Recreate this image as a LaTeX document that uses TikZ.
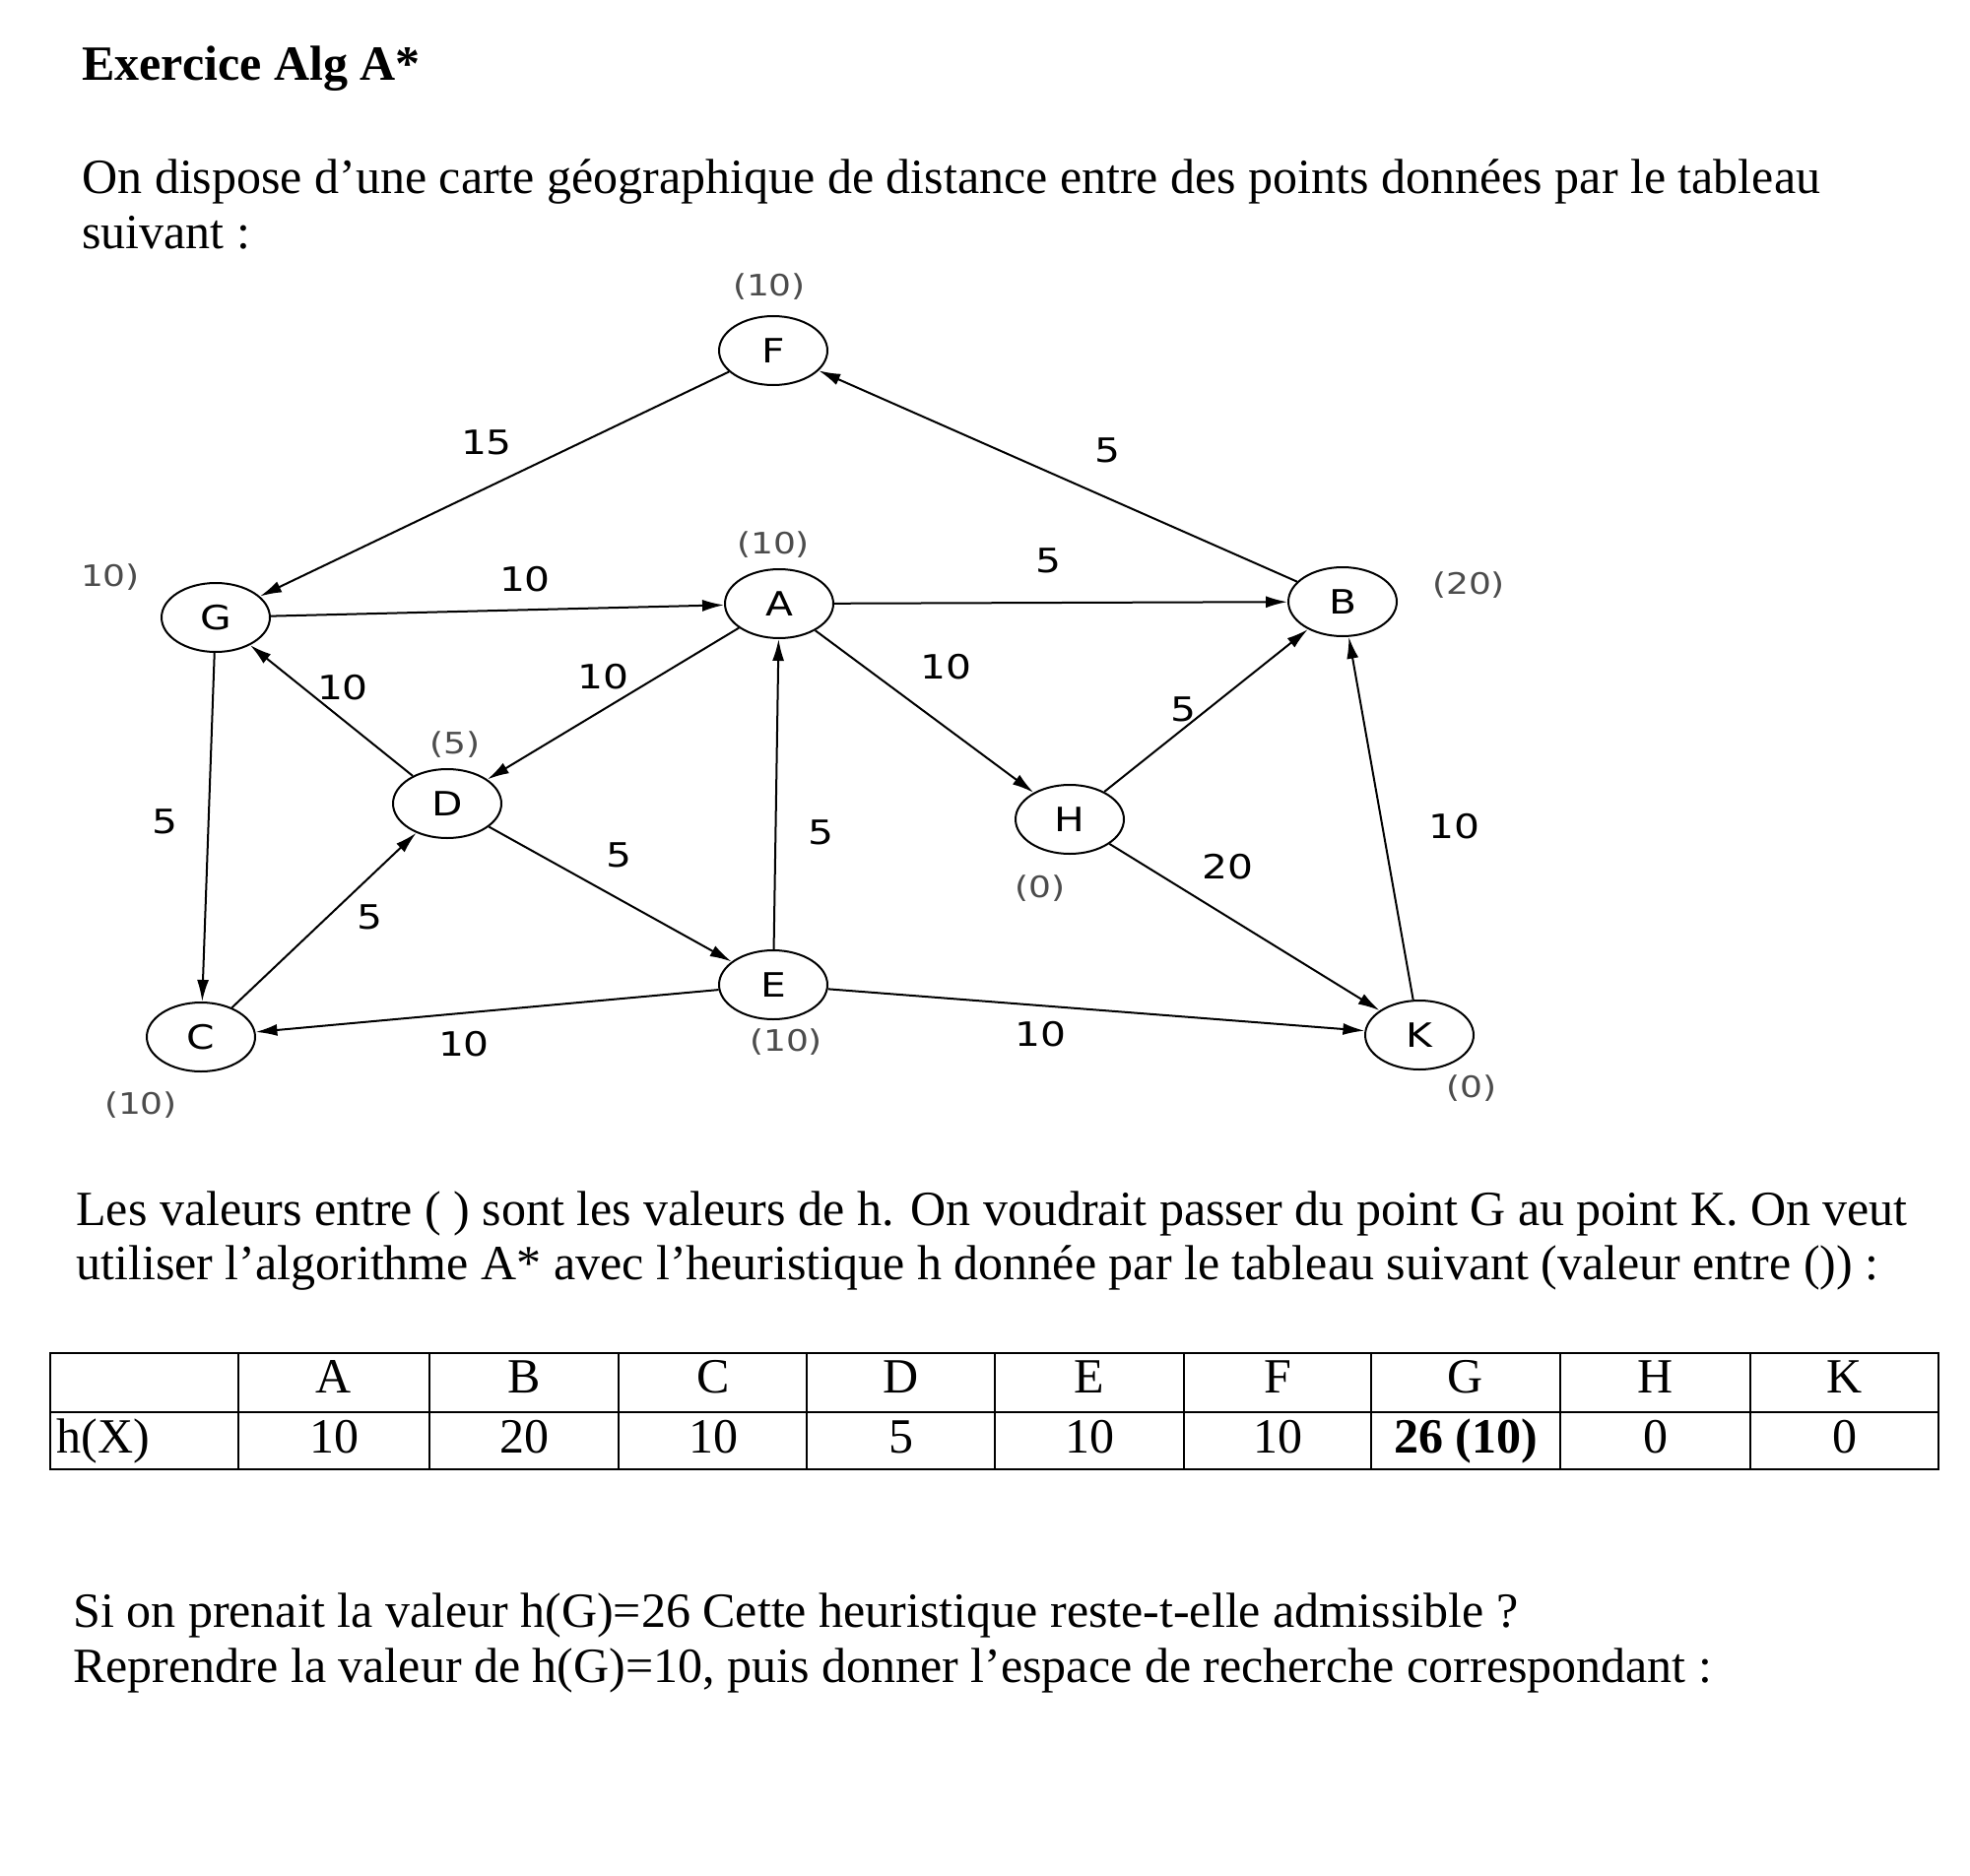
\documentclass[tikz,border=0pt]{standalone}
\usepackage{fontspec}
\setmainfont{Liberation Serif}
\newfontfamily\graphfont[FakeStretch=1.2]{DejaVu Sans}
\usetikzlibrary{arrows.meta,shapes.geometric}

\begin{document}
\begin{tikzpicture}[x=0.5pt,y=-0.5pt]
        \tikzstyle{every node}+=[inner sep=0pt]
        \tikzstyle{town}=[draw=black,line width=1pt,ellipse,minimum width=55pt,minimum height=35pt,font=\graphfont\fontsize{17}{17}\selectfont]
        \tikzstyle{dist}=[font=\graphfont\fontsize{17}{17}\selectfont]
        \tikzstyle{hval}=[text=black!70,font=\graphfont\fontsize{15}{15}\selectfont]
        \tikzstyle{road}=[black,line width=1pt,-{Latex[length=11pt,width=6pt]}]
        \tikzstyle{txt}=[anchor=base west,font=\fontsize{25}{30}\selectfont]
        \useasboundingbox (0,0) rectangle (2000,1904);
        % texte de l'enonce
        \node [txt,font=\bfseries\fontsize{25}{30}\selectfont] (titre) at (83,82) {Exercice Alg A*};
        \node [txt] (l1) at (83,197) {On dispose d’une carte géographique de distance entre des points données par le tableau};
        \node [txt] (l2) at (83,253) {suivant :};
        % sommets
        \node [town] (F) at (785,356) {F};
        \node [town] (G) at (219,627) {G};
        \node [town] (A) at (791,613) {A};
        \node [town] (B) at (1363,611) {B};
        \node [town] (D) at (454,816) {D};
        \node [town] (H) at (1086,832) {H};
        \node [town] (C) at (204,1053) {C};
        \node [town] (E) at (785,1000) {E};
        \node [town] (K) at (1441,1051) {K};
        % valeurs de h
        \node [hval] (hF) at (781,291) {(10)};
        \node [hval] (hA) at (785,553) {(10)};
        \node [hval] (hG) at (112,586) {10)};
        \node [hval] (hD) at (462,756) {(5)};
        \node [hval] (hB) at (1491,594) {(20)};
        \node [hval] (hH) at (1056,902) {(0)};
        \node [hval] (hC) at (143,1122) {(10)};
        \node [hval] (hE) at (798,1058) {(10)};
        \node [hval] (hK) at (1494,1105) {(0)};
        % arcs
        \draw [road] (F) -- (G);
        \draw [road] (B) -- (F);
        \draw [road] (G) -- (A);
        \draw [road] (A) -- (B);
        \draw [road] (D) -- (G);
        \draw [road] (A) -- (D);
        \draw [road] (A) -- (H);
        \draw [road] (H) -- (B);
        \draw [road] (K) -- (B);
        \draw [road] (G) -- (C);
        \draw [road] (C) -- (D);
        \draw [road] (D) -- (E);
        \draw [road] (E) -- (A);
        \draw [road] (H) -- (K);
        \draw [road] (E) -- (C);
        \draw [road] (E) -- (K);
        % distances
        \node [dist] (dFG) at (494,449) {15};
        \node [dist] (dBF) at (1124,457) {5};
        \node [dist] (dGA) at (533,588) {10};
        \node [dist] (dAB) at (1064,569) {5};
        \node [dist] (dDG) at (348,698) {10};
        \node [dist] (dAD) at (612,687) {10};
        \node [dist] (dAH) at (960,677) {10};
        \node [dist] (dHB) at (1201,720) {5};
        \node [dist] (dKB) at (1476,839) {10};
        \node [dist] (dGC) at (167,834) {5};
        \node [dist] (dEA) at (833,845) {5};
        \node [dist] (dDE) at (628,868) {5};
        \node [dist] (dCD) at (375,931) {5};
        \node [dist] (dHK) at (1246,880) {20};
        \node [dist] (dEC) at (471,1060) {10};
        \node [dist] (dEK) at (1056,1050) {10};
        % suite de l'enonce
        \node [txt] (l3) at (77,1244) {Les valeurs entre ( ) sont les valeurs de h. On voudrait passer du point G au point K. On veut};
        \node [txt] (l4) at (77,1299) {utiliser l’algorithme A* avec l’heuristique h donnée par le tableau suivant (valeur entre ()) :};
        % tableau
        \draw [black,line width=1pt] (51,1374) rectangle (1968,1492);
        \draw [black,line width=1pt] (51,1434) -- (1968,1434);
        \draw [black,line width=1pt] (242,1374) -- (242,1492);
        \draw [black,line width=1pt] (436,1374) -- (436,1492);
        \draw [black,line width=1pt] (628,1374) -- (628,1492);
        \draw [black,line width=1pt] (819,1374) -- (819,1492);
        \draw [black,line width=1pt] (1010,1374) -- (1010,1492);
        \draw [black,line width=1pt] (1202,1374) -- (1202,1492);
        \draw [black,line width=1pt] (1392,1374) -- (1392,1492);
        \draw [black,line width=1pt] (1584,1374) -- (1584,1492);
        \draw [black,line width=1pt] (1777,1374) -- (1777,1492);
        \node [txt,anchor=base] (tA) at (339,1414) {A};
        \node [txt,anchor=base] (tB) at (532,1414) {B};
        \node [txt,anchor=base] (tC) at (724,1414) {C};
        \node [txt,anchor=base] (tD) at (915,1414) {D};
        \node [txt,anchor=base] (tE) at (1106,1414) {E};
        \node [txt,anchor=base] (tF) at (1297,1414) {F};
        \node [txt,anchor=base] (tG) at (1488,1414) {G};
        \node [txt,anchor=base] (tH) at (1681,1414) {H};
        \node [txt,anchor=base] (tK) at (1873,1414) {K};
        \node [txt] (th) at (57,1475) {h(X)};
        \node [txt,anchor=base] (vA) at (339,1475) {10};
        \node [txt,anchor=base] (vB) at (532,1475) {20};
        \node [txt,anchor=base] (vC) at (724,1475) {10};
        \node [txt,anchor=base] (vD) at (915,1475) {5};
        \node [txt,anchor=base] (vE) at (1106,1475) {10};
        \node [txt,anchor=base] (vF) at (1297,1475) {10};
        \node [txt,anchor=base,font=\bfseries\fontsize{25}{30}\selectfont] (vG) at (1488,1475) {26 (10)};
        \node [txt,anchor=base] (vH) at (1681,1475) {0};
        \node [txt,anchor=base] (vK) at (1873,1475) {0};
        % questions
        \node [txt] (l5) at (74,1652) {Si on prenait la valeur h(G)=26 Cette heuristique reste-t-elle admissible ?};
        \node [txt] (l6) at (74,1708) {Reprendre la valeur de h(G)=10, puis donner l’espace de recherche correspondant :};
\end{tikzpicture}
\end{document}
